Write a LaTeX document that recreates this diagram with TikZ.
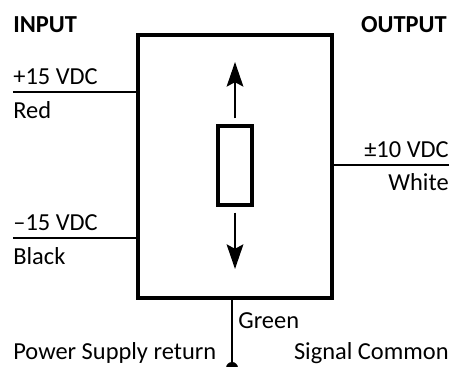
\documentclass[tikz,border=0pt]{standalone}
\usepackage{fontspec}
\setmainfont{Carlito}
\usepackage{tikz}
\usetikzlibrary{arrows.meta}

\begin{document}
\begin{tikzpicture}

        \useasboundingbox (0,0) rectangle (9.04,7.34);

        % the two boxes and the dot
        \begin{scope}[every node/.style={draw=black,line width=2pt,inner sep=0pt}]
        \node[minimum width=3.88cm,minimum height=5.26cm] (Box) at (4.70,4.01) {};
        \node[minimum width=0.68cm,minimum height=1.58cm] (Res) at (4.70,4.03) {};
        \end{scope}
        \node[circle,fill=black,inner sep=0pt,minimum size=0.24cm] (Dot) at (4.64,-0.02) {};

        % free ends of the wires and arrows
        \coordinate (P) at (0.26,5.50);
        \coordinate (N) at (0.26,2.58);
        \coordinate (O) at (8.98,4.04);
        \coordinate (Up) at (4.70,6.10);
        \coordinate (Down) at (4.70,1.96);

        % wires
        \begin{scope}[line width=1.1pt]
        \draw (P) -- (P -| Box.west);
        \draw (N) -- (N -| Box.west);
        \draw (O) -- (O -| Box.east);
        \draw (Box.south -| Dot) -- (Dot);
        \end{scope}

        % arrows
        \begin{scope}[>={Stealth[length=14pt,width=9.5pt,inset=2.5pt]},line width=1.1pt]
        \draw [->,shorten <=3.4pt] (Res.north) -- (Up);
        \draw [->,shorten <=3.4pt] (Res.south) -- (Down);
        \end{scope}

        % labels
        \begin{scope}[every node/.style={inner sep=0pt,font=\fontsize{13.9}{16}\selectfont}]
        \node[anchor=base west,font=\fontsize{13.9}{16}\selectfont\bfseries] (In) at (0.26,6.68) {INPUT};
        \node[anchor=base east,font=\fontsize{13.9}{16}\selectfont\bfseries] (Out) at (8.94,6.68) {OUTPUT};
        \node[anchor=base west] (Pv) at (0.26,5.64) {+15 VDC};
        \node[anchor=base west] (Pc) at (0.26,4.96) {Red};
        \node[anchor=base west] (Nv) at (0.26,2.72) {–15 VDC};
        \node[anchor=base west] (Nc) at (0.26,2.04) {Black};
        \node[anchor=base east] (Ov) at (8.98,4.18) {±10 VDC};
        \node[anchor=base east] (Oc) at (8.98,3.52) {White};
        \node[anchor=base west] (G) at (4.76,0.76) {Green};
        \node[anchor=base west] (Ps) at (0.26,0.14) {Power Supply return};
        \node[anchor=base east] (Sc) at (8.98,0.14) {Signal Common};
        \end{scope}

\end{tikzpicture}
\end{document}
